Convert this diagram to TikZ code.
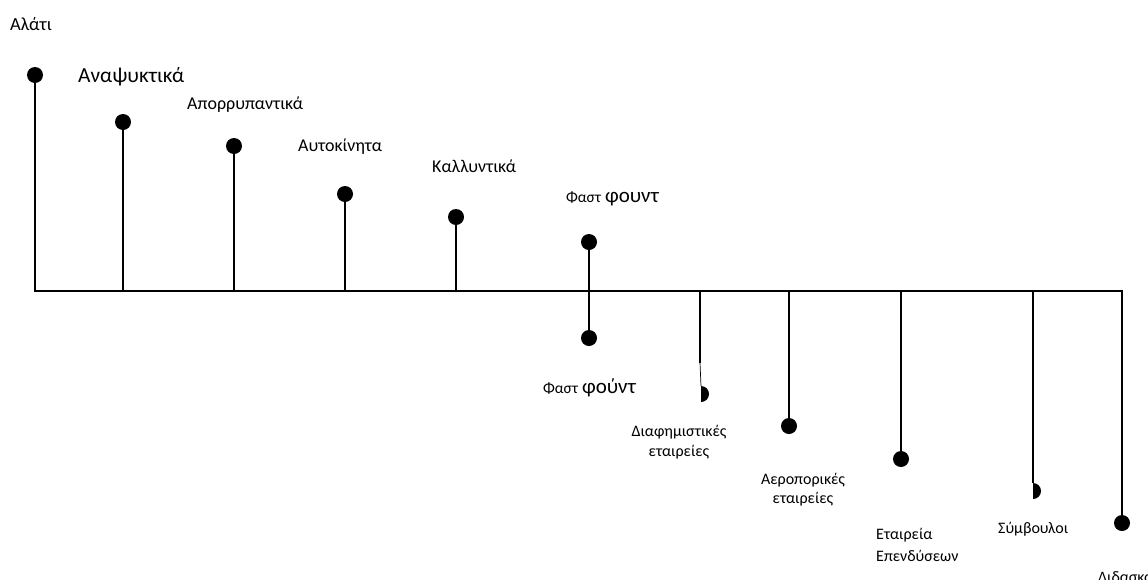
\documentclass[tikz,border=0pt]{standalone}
\usepackage{fontspec}
\setmainfont{Carlito}
\begin{document}
\begin{tikzpicture}[x=1pt,y=-1pt,
  dot/.style={circle,fill=black,inner sep=0pt,minimum size=16pt},
  stem/.style={line width=2.6pt},
  thinstem/.style={line width=0.7pt},
  lbl/.style={inner sep=0pt,anchor=base west,font=\fontsize{18}{20}\selectfont},
  sml/.style={inner sep=0pt,anchor=base west,font=\fontsize{16}{18}\selectfont},
  smlc/.style={inner sep=0pt,anchor=base,font=\fontsize{16}{18}\selectfont},
  big/.style={inner sep=0pt,anchor=base west,font=\fontsize{21.4}{24}\selectfont}]
\useasboundingbox (0,0) rectangle (1148,579);
% base line
\coordinate (b0) at (35,291);
\coordinate (bend) at (1122,291);
\draw[stem,line cap=rect] (b0) -- (bend);
% upward stems
\node[dot] (d0) at (35,75) {};
\node[dot] (d1) at (123,122) {};
\node[dot] (d2) at (234,146) {};
\node[dot] (d3) at (345,194) {};
\node[dot] (d4) at (456,217) {};
\node[dot] (d5) at (589,242) {};
\node[dot] (d5b) at (589,338) {};
\coordinate (b1) at (123,291);
\coordinate (b2) at (234,291);
\coordinate (b3) at (345,291);
\coordinate (b4) at (456,291);
\draw[stem] (b0) -- (d0.center);
\draw[stem] (b1) -- (d1.center);
\draw[stem] (b2) -- (d2.center);
\draw[stem] (b3) -- (d3.center);
\draw[stem] (b4) -- (d4.center);
\draw[stem] (d5.center) -- (d5b.center);
% downward stems
\coordinate (b6) at (700,291);
\coordinate (m6) at (700,363);
\coordinate (h6) at (701,386);
\draw[stem] (b6) -- (m6);
\draw[thinstem] (m6) -- (h6);
\fill (701,386) -- (701,402) arc[start angle=90,end angle=-90,radius=8] -- cycle;
\coordinate (b7) at (789,291);
\node[dot] (d7) at (789,426) {};
\draw[stem] (b7) -- (d7.center);
\coordinate (b8) at (901,291);
\node[dot] (d8) at (901,459) {};
\draw[stem] (b8) -- (d8.center);
\coordinate (b9) at (1033,291);
\coordinate (h9) at (1033,483);
\draw[stem] (b9) -- (h9);
\fill (1033,483) -- (1033,499) arc[start angle=90,end angle=-90,radius=8] -- cycle;
\node[dot] (d10) at (1122,523) {};
\draw[stem] (bend) -- (d10.center);
% labels
\node[lbl,font=\fontsize{18.5}{20}\selectfont] (t0) at (10,30) {Αλάτι};
\node[big] (t1) at (78,82) {Αναψυκτικά};
\node[lbl] (t2) at (187,109) {Απορρυπαντικά};
\node[lbl] (t3) at (298,151) {Αυτοκίνητα};
\node[lbl] (t4) at (432,172) {Καλλυντικά};
\node[lbl] (t5) at (566,202) {{\fontsize{15.5}{18}\selectfont Φαστ} {\fontsize{21}{24}\selectfont φουντ}};
\node[lbl] (t6) at (543,393) {{\fontsize{15.5}{18}\selectfont Φαστ} {\fontsize{21}{24}\selectfont φούντ}};
\node[smlc] (t7a) at (679,436) {Διαφημιστικές};
\node[smlc] (t7b) at (679,456) {εταιρείες};
\node[smlc] (t8a) at (803,484) {Αεροπορικές};
\node[smlc] (t8b) at (803,503) {εταιρείες};
\node[sml] (t9a) at (876,539) {Εταιρεία};
\node[sml] (t9b) at (876,561) {Επενδύσεων};
\node[sml] (t10) at (998,533) {Σύμβουλοι};
\node[sml] (t11) at (1098,582) {Διδασκαλία};
\end{tikzpicture}
\end{document}
